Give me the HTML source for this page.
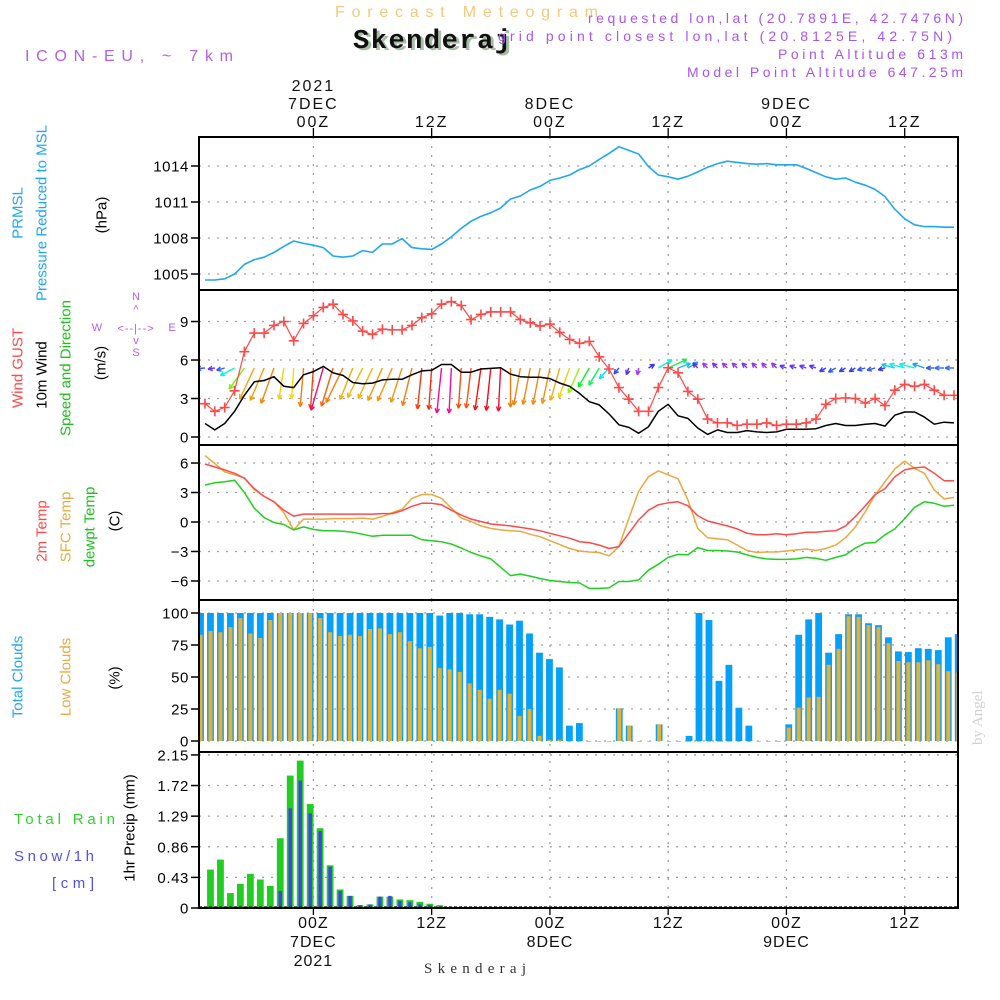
<!DOCTYPE html>
<html><head><meta charset="utf-8">
<style>
html,body{margin:0;padding:0;background:#fff;}
svg{display:block;font-family:"Liberation Sans",sans-serif;}
</style></head>
<body>
<svg id="chart" width="1000" height="1000" viewBox="0 0 1000 1000" xmlns="http://www.w3.org/2000/svg">
<rect x="0" y="0" width="1000" height="1000" fill="#fff"/>
<defs>
<clipPath id="clipAll"><rect x="200" y="137" width="757" height="771"/></clipPath>
</defs>
<text x="335" y="17" font-size="16" fill="#f3c97a" textLength="263">Forecast Meteogram</text>
<text x="356" y="50" font-family="Liberation Mono, monospace" font-weight="bold" font-size="27" fill="#a8bca8" textLength="158">Skenderaj</text>
<text x="353" y="48" font-family="Liberation Mono, monospace" font-weight="bold" font-size="27" fill="#111" textLength="158">Skenderaj</text>
<text x="25" y="61" font-size="16" fill="#b060e8" textLength="208">ICON-EU, ~ 7km</text>
<text x="963" y="23" font-size="14" fill="#a855f0" text-anchor="end" textLength="375">requested lon,lat (20.7891E, 42.7476N)</text>
<text x="952" y="41" font-size="14" fill="#a855f0" text-anchor="end" textLength="454">grid point closest lon,lat (20.8125E, 42.75N)</text>
<text x="963" y="59" font-size="14" fill="#a855f0" text-anchor="end" textLength="185">Point Altitude 613m</text>
<text x="963" y="77" font-size="14" fill="#a855f0" text-anchor="end" textLength="276">Model Point Altitude 647.25m</text>
<text x="424" y="973" font-family="Liberation Serif, serif" font-size="15" fill="#333" textLength="102">Skenderaj</text>
<text transform="translate(982,745) rotate(-90)" font-family="Liberation Serif, serif" font-size="15" fill="#d0d0d0">by Angel</text>
<g id="g"></g>
</svg>
<script>
const hourStart = -11, hourEnd = 65;
const pressure = [1004.5,1004.5,1004.6,1005.0,1005.8,1006.2,1006.4,1006.8,1007.3,1007.75,1007.55,1007.4,1007.2,1006.5,1006.4,1006.5,1006.95,1006.8,1007.5,1007.5,1007.95,1007.2,1007.1,1007.05,1007.5,1008.1,1008.8,1009.4,1009.8,1010.1,1010.5,1011.25,1011.5,1012.0,1012.3,1012.8,1013.0,1013.25,1013.7,1014.0,
1014.55,1015.05,1015.6,1015.3,1015.0,1013.95,1013.25,1013.1,1012.9,1013.15,1013.5,1013.9,1014.2,1014.4,1014.3,1014.2,1014.15,1014.2,1014.1,1014.1,1014.1,1013.8,1013.45,1013.1,1012.9,1013.0,1012.65,1012.4,1012.05,1011.45,1010.4,1009.6,1009.1,1008.95,1008.95,1008.9,1008.9];
const gust = [2.6,2.0,2.3,3.6,6.65,8.1,8.1,8.7,9.0,7.5,8.85,9.45,10.1,10.35,9.55,9.05,8.25,8.0,8.4,8.35,8.35,8.7,9.3,9.6,10.35,10.55,10.25,9.15,9.55,9.75,9.75,9.75,9.15,8.9,8.65,8.8,8.15,7.6,7.3,7.45,
6.25,5.3,3.85,2.95,2.0,2.0,3.85,5.4,5.0,3.55,2.95,1.4,1.1,1.1,0.9,1.0,1.0,1.1,0.9,1.0,1.0,1.1,1.4,2.55,3.0,3.05,3.0,2.65,3.0,2.45,3.65,4.1,3.95,4.1,3.65,3.25,3.25];
const wind10m = [1.05,0.55,1.05,2.0,3.25,4.3,4.4,4.7,3.95,3.85,4.85,5.1,5.5,5.0,4.8,4.25,4.15,4.2,4.45,4.5,4.5,4.85,5.15,5.2,5.65,5.65,5.05,5.05,5.3,5.35,5.4,4.9,4.7,4.65,4.65,4.55,4.2,3.95,3.4,2.75,
2.5,1.8,0.95,0.75,0.3,0.8,2.0,2.55,1.65,1.45,0.7,0.2,0.55,0.35,0.35,0.5,0.4,0.35,0.4,0.6,0.6,0.6,0.65,0.9,1.05,0.9,0.9,1.0,1.05,0.85,1.7,1.95,1.95,1.55,1.0,1.15,1.1];
const windDir = [265,260,255,242,216,205,203,200,189,184,185,184,196,197,206,202,207,205,204,204,198,194,186,184,186,183,184,187,188,186,183,180,190,191,191,192,196,200,204,210,
211,222,219,200,190,60,59,65,70,60,315,315,315,315,315,315,315,315,315,290,290,290,290,240,240,240,240,255,255,255,285,285,285,290,270,270,270];
const temp2m = [5.9,5.6,5.3,4.95,4.45,3.4,2.6,2.05,1.2,0.6,0.8,0.8,0.8,0.8,0.8,0.8,0.8,0.8,0.85,0.85,1.15,1.6,1.9,1.9,1.75,1.2,0.7,0.3,0.05,-0.2,-0.3,-0.4,-0.55,-0.7,-0.9,-1.15,-1.4,-1.65,-2.0,-2.1,
-2.35,-2.7,-2.5,-1.15,0.2,1.2,1.75,1.95,2.05,1.65,0.65,0.1,-0.15,-0.4,-0.7,-1.15,-1.3,-1.3,-1.2,-1.3,-1.2,-1.05,-1.05,-0.95,-0.9,-0.4,0.55,1.65,2.8,3.4,4.6,5.3,5.5,5.6,4.95,4.2,4.2];
const tempSfc = [6.75,5.95,5.1,4.8,4.5,3.3,2.6,2.05,0.95,-0.8,0.3,0.3,0.3,0.35,0.35,0.35,0.4,0.3,0.55,0.95,1.3,2.4,2.8,2.8,2.4,1.4,0.4,0.05,-0.4,-0.65,-0.8,-0.9,-0.95,-1.25,-1.5,-1.9,-2.3,-2.7,-2.95,-3.05,
-3.1,-3.45,-2.5,0.35,3.1,4.6,5.2,4.8,4.4,2.25,-0.65,-1.6,-1.7,-1.8,-2.35,-2.9,-3.1,-3.05,-3.05,-2.95,-2.85,-2.75,-2.9,-2.7,-2.35,-1.6,-0.5,1.05,2.75,4.1,5.4,6.2,5.45,4.95,3.25,2.35,2.5];
const dewpt = [3.75,4.0,4.1,4.25,3.0,1.4,0.45,-0.05,-0.25,-0.8,-0.5,-0.75,-0.9,-0.9,-0.95,-1.05,-1.25,-1.45,-1.35,-1.35,-1.35,-1.35,-1.8,-1.9,-2.0,-2.25,-2.65,-3.1,-3.45,-3.75,-4.6,-5.45,-5.3,-5.5,-5.75,-5.95,-6.05,-6.15,-6.2,-6.75,
-6.75,-6.7,-6.05,-6.05,-5.9,-4.9,-4.3,-3.6,-3.3,-3.35,-2.6,-2.9,-2.9,-2.95,-3.05,-3.35,-3.6,-3.75,-3.8,-3.8,-3.75,-3.6,-3.7,-3.9,-3.6,-3.35,-2.65,-2.15,-2.1,-1.3,-0.7,0.35,1.5,2.05,1.9,1.6,1.7];
const totalClouds = [100,100,100,100,100,100,100,100,100,100,100,100,100,100,100,100,100,100,100,100,100,100,100,100,
98,100,100,99,99,97,95,91,94,84,69,64,57.5,12,14,0,0,0,25.5,12,0,0,13,0,0,4,100,94.5,47,59.5,26,12,0,0,0,13,
83,95,100,69,83.5,99,99,92,90.5,81,70,69.5,72.5,72,71,81,83.5];
const lowClouds = [83,86,85,89,96,84,80.5,94.5,100,100,100,100,96,85,82,83,82,87.5,88,83.5,85,78,72.5,73.5,
57,56,54,45,40,33,40,37,19.5,25,4,1,1,0,0,0,0,0,25.5,12,0,0,13,0,0,0,0,0,0,0,0,0,0,0,0,10.5,
26,34,34.5,59.5,72,97.5,97,90.5,89,76.5,62.5,61.5,61.5,63,60,54.5,53.5];
const rain = [0,0.54,0.68,0.21,0.34,0.48,0.40,0.31,0.98,1.86,2.07,1.46,1.12,0.60,0.26,0.17,0.04,0.05,0.16,0.16,0.12,0.11,0.085,0.06,0.04,0.015,0.01,
0,0,0,0,0,0,0,0,0,0,0,0,0,0,0,0,0,0,0,0,0,0,0,0,0,0,0,0,0,0,0,0,0,0,0,0,0,0,0,0,0.015,0,0,0,0,0,0,0,0,0.025];
const snow = [0,0,0,0,0,0,0,0.005,0.24,1.40,1.79,1.33,1.08,0.58,0.24,0.17,0.04,0.05,0.16,0.17,0.10,0.08,0.05,0.04,0.015,0.01,0.005,
0,0,0,0,0,0,0,0,0,0,0,0,0,0,0,0,0,0,0,0,0,0,0,0,0,0,0,0,0,0,0,0,0,0,0,0,0,0,0,0,0,0,0,0,0,0,0,0,0,0];
const pTicks = [1005,1008,1011,1014];
const wTicks = [0,3,6,9];
const tTicks = [-6,-3,0,3,6];
const cTicks = [0,25,50,75,100];
const rTicks = ["0","0.43","0.86","1.29","1.72","2.15"];
const timeTicks = [0,12,24,36,48,60];
const topLabels = [["2021","7DEC","00Z"],["12Z"],["8DEC","00Z"],["12Z"],["9DEC","00Z"],["12Z"]];
const bottomLabels = [["00Z","7DEC","2021"],["12Z"],["00Z","8DEC"],["12Z"],["00Z","9DEC"],["12Z"]];

const X = h => 313.4 + h*9.855;
const barX = i => 200.5 + i*9.97;
const yP = p => 274 - (p-1005)*12;
const yW = v => 437 - v*12.83;
const yT = t => 522 - t*9.83;
const yC = c => 741 - c*1.28;
const yR = r => 908 - r*71.2;
const L = 199, R = 958;
const panels = [[137,290],[290,445],[445,600],[600,752],[752,908]];

const NS = "http://www.w3.org/2000/svg";
const G = document.getElementById('g');
function mk(tag, attrs, parent){
  const e = document.createElementNS(NS, tag);
  for (const k in attrs) e.setAttribute(k, attrs[k]);
  (parent||G).appendChild(e);
  return e;
}
function txt(s, attrs, parent){ const e = mk('text', attrs, parent); e.textContent = s; return e; }

const grid = mk('g', {stroke:'#a0a0a0','stroke-width':1.3,'stroke-dasharray':'2,7',fill:'none'});


function hgrid(vals, f){ vals.forEach(v=>{ const y=f(v); const l=mk('line',{x1:L,x2:R,y1:y,y2:y},grid);   }); }
hgrid(pTicks, yP); hgrid(wTicks, yW); hgrid(tTicks, yT); hgrid(cTicks, yC);
hgrid(rTicks.map(Number).filter(v=>v>0), yR);
panels.forEach(pn=>{ timeTicks.forEach(h=>{ const l=mk('line',{x1:X(h),x2:X(h),y1:pn[0],y2:pn[1]},grid);   }); });

function yticks(vals, f, labels){
  vals.forEach((v,i)=>{
    const y=f(Number(v));
    const t=mk('line',{x1:191,x2:L,y1:y,y2:y,stroke:'#000','stroke-width':1.5});
    
    
    const lb=txt(labels?labels[i]:String(v),{x:189,y:y+5.5,'font-size':15,'text-anchor':'end',fill:'#000','letter-spacing':'0.6'});
    
    
  });
}
yticks(pTicks,yP); yticks(wTicks,yW);
yticks(tTicks,yT,tTicks.map(v=>v<0?'\u2212'+(-v):String(v)));
yticks(cTicks,yC); yticks(rTicks,yR);

timeTicks.forEach((h,i)=>{
  const x=X(h);
  const a=mk('line',{x1:x,x2:x,y1:128,y2:137,stroke:'#000','stroke-width':1.3});
  
  
  const b=mk('line',{x1:x,x2:x,y1:908,y2:915,stroke:'#000','stroke-width':1.3});
  
  
  const tl=topLabels[i];
  tl.forEach((s,j)=>{
    const y=127-(tl.length-1-j)*18;
    const e=txt(s,{x:x,y:y,'font-size':16,'text-anchor':'middle',fill:'#111','letter-spacing':'2'});
    
    
  });
  bottomLabels[i].forEach((s,j)=>{
    const e=txt(s,{x:x,y:928+j*19,'font-size':16,'text-anchor':'middle',fill:'#111','letter-spacing':'1'});
    
    
  });
});

const plot = mk('g',{'clip-path':'url(#clipAll)'});


function line(arr, f, color, name, w){
  const pts = arr.map((v,i)=>X(hourStart+i).toFixed(1)+','+f(v).toFixed(1)).join(' ');
  const e=mk('polyline',{points:pts,fill:'none',stroke:color,'stroke-width':w||1.5,'stroke-linejoin':'round'},plot);
  
  
}
line(pressure,yP,'#1ea7f5','pressure-line',1.6);

totalClouds.forEach((v,i)=>{
  if(v<=0.5) return;
  const b=mk('rect',{x:barX(i)-3.4,y:yC(v),width:6.8,height:741-yC(v),fill:'#05a0f8'},plot);
  
  
});
lowClouds.forEach((v,i)=>{
  const b=mk('rect',{x:barX(i)-2,y:yC(v),width:4,height:Math.max(741-yC(v),0.8),fill:'#e8b030'},plot);
  
  
});
rain.forEach((v,i)=>{
  if(v<=0) return;
  const b=mk('rect',{x:barX(i)-3.4,y:yR(v),width:6.8,height:908-yR(v),fill:'#22cc22'},plot);
  
  
});
snow.forEach((v,i)=>{
  if(v<=0) return;
  const b=mk('rect',{x:barX(i)-1.7,y:yR(v),width:3.4,height:908-yR(v),fill:'#4040f0'},plot);
  
  
});
const base=mk('line',{x1:L,x2:R,y1:907,y2:907,stroke:'#333','stroke-width':1.5,'stroke-dasharray':'3,2'},plot);



line(tempSfc,yT,'#eaa840','sfc-temp-line',1.5);
line(temp2m,yT,'#ff4a4a','temp-2m-line',1.5);
line(dewpt,yT,'#20d020','dewpoint-line',1.5);

function speedColor(s){
  const stops=[[0.3,275],[1.0,230],[1.8,185],[3.0,110],[3.8,55],[4.3,40],[4.9,28],[5.3,2],[5.6,-35]];
  let h=stops[0][1];
  if(s>=stops[stops.length-1][0]) h=stops[stops.length-1][1];
  else for(let k=0;k<stops.length-1;k++){ if(s>=stops[k][0]&&s<stops[k+1][0]){ const t=(s-stops[k][0])/(stops[k+1][0]-stops[k][0]); h=stops[k][1]+t*(stops[k+1][1]-stops[k][1]); break; } }
  h=(h+360)%360;
  return 'hsl('+h.toFixed(0)+',90%,'+(h>200&&h<300?'58%':'50%')+')';
}
windDir.forEach((d,i)=>{
  const sp=wind10m[i];
  const len=Math.max(7,8*sp);
  const x0=X(hourStart+i), y0=368;
  const a=d*Math.PI/180;
  const x1=x0+len*Math.sin(a), y1=y0-len*Math.cos(a);
  const c=speedColor(sp);
  const g=mk('g',{stroke:c,'stroke-width':1.4,fill:'none'},plot);
  
  
  mk('line',{x1:x0,y1:y0,x2:x1,y2:y1},g);
  const hl=5, ang=Math.atan2(y1-y0,x1-x0);
  [0.45,-0.45].forEach(o=>{ mk('line',{x1:x1,y1:y1,x2:x1-hl*Math.cos(ang+o),y2:y1-hl*Math.sin(ang+o)},g); });
});
line(wind10m,yW,'#000','wind-10m-line',1.5);
line(gust,yW,'#ff4848','gust-line',1.2);
gust.forEach((v,i)=>{
  const x=X(hourStart+i), y=yW(v);
  const p=mk('path',{d:'M'+(x-5)+','+y+'h10M'+x+','+(y-5)+'v10',stroke:'#ff4848','stroke-width':1.6},plot);
  
  
});

panels.forEach(pn=>{
  const r=mk('rect',{x:L,y:pn[0],width:R-L,height:pn[1]-pn[0],fill:'none',stroke:'#000','stroke-width':2});
  
  
});

function vt(s,x,y,color,name,size){
  const e=txt(s,{transform:'translate('+x+','+y+') rotate(-90)','font-size':size||15,'text-anchor':'middle','dominant-baseline':'central',fill:color});
  
  
}
vt('PRMSL',18,213,'#1ea7f5','prmsl-label');
vt('Pressure Reduced to MSL',42,213,'#1ea7f5','pressure-title');
vt('(hPa)',102,215,'#000','pressure-unit');
vt('Wind GUST',18,368,'#ff4848','wind-gust-label');
vt('10m Wind',42,375,'#000','wind-10m-label');
vt('Speed and Direction',66,368,'#20c020','speed-direction-label');
vt('(m/s)',101,363,'#000','wind-unit');
vt('2m Temp',42,531,'#ff4848','temp-2m-label');
vt('SFC Temp',66,527,'#eaa840','sfc-temp-label');
vt('dewpt Temp',90,527,'#20c020','dewpt-label');
vt('(C)',115,521,'#000','temp-unit');
vt('Total Clouds',18,677,'#1ea7f5','total-clouds-label');
vt('Low Clouds',66,677,'#eaa840','low-clouds-label');
vt('(%)',115,678,'#000','clouds-unit');
vt('1hr Precip (mm)',130,828,'#000','precip-title');
const tr=txt('Total   Rain',{x:14,y:824,'font-size':15,fill:'#30d030','letter-spacing':'2',textLength:103});


const sn=txt('Snow/1h',{x:14,y:861,'font-size':15,fill:'#5050f0','letter-spacing':'2',textLength:82});


const cm=txt('[cm]',{x:52,y:888,'font-size':15,fill:'#5050f0','letter-spacing':'2',textLength:44});



const comp=mk('g',{fill:'#b060e8','font-size':11,'text-anchor':'middle'});


txt('N',{x:136,y:300},comp); txt('^',{x:136,y:313},comp);
txt('W',{x:97,y:331},comp); txt('<--|-->',{x:136,y:332,'letter-spacing':'1'},comp); txt('E',{x:172,y:331},comp);
txt('v',{x:136,y:344},comp); txt('S',{x:136,y:356},comp);
</script>
</body></html>
